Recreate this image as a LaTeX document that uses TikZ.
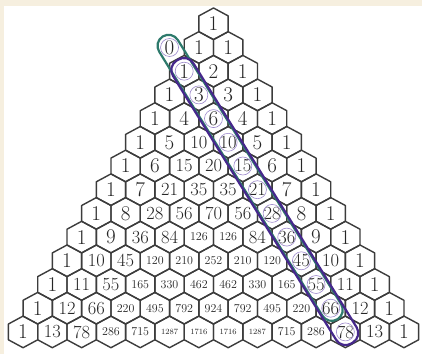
\documentclass[tikz,border=0pt]{standalone}
\usetikzlibrary{calc}
\definecolor{cream}{HTML}{F6EFDF}
\definecolor{hexline}{HTML}{3C3C3C}
\definecolor{numcol}{HTML}{262626}
\definecolor{tealc}{HTML}{2E7A6C}
\definecolor{purp}{HTML}{46288C}
\definecolor{lpurp}{HTML}{9C88CC}
\newcommand{\pnum}[1]{\ifnum#1<10 \fontsize{21}{21}\selectfont #1\else\ifnum#1<100 \fontsize{18.5}{18.5}\selectfont #1\else\ifnum#1<1000 \fontsize{12}{12}\selectfont #1\else\fontsize{8}{8}\selectfont #1\fi\fi\fi}
\begin{document}
\begin{tikzpicture}[x=1pt,y=1pt,
  numtext/.style={inner sep=0pt, text=numcol},
  hexedge/.style={draw=hexline, line width=1.4pt, line join=round},
  capsule/.style={rectangle, rounded corners=11pt, minimum height=22pt, line width=2.2pt, inner sep=0pt},
  ringmark/.style={draw=lpurp, line width=0.6pt}]
\fill[cream] (0,0) rectangle (422,354);
\fill[white] (4,0) rectangle (422,348);
\useasboundingbox (0,0) rectangle (422,354);
\foreach \n/\row in {0/{1},1/{1,1},2/{1,2,1},3/{1,3,3,1},4/{1,4,6,4,1},5/{1,5,10,10,5,1},
  6/{1,6,15,20,15,6,1},7/{1,7,21,35,35,21,7,1},8/{1,8,28,56,70,56,28,8,1},
  9/{1,9,36,84,126,126,84,36,9,1},10/{1,10,45,120,210,252,210,120,45,10,1},
  11/{1,11,55,165,330,462,462,330,165,55,11,1},
  12/{1,12,66,220,495,792,924,792,495,220,66,12,1},
  13/{1,13,78,286,715,1287,1716,1716,1287,715,286,78,13,1}} {
  \foreach \v [count=\k from 0] in \row {
    \node[numtext] (c\n-\k) at ({213.5+(\k-\n/2)*29.3},{330.2-23.7*\n}) {\pnum{\v}};
    \draw[hexedge] (c\n-\k.center) ++(0,15.8) -- ++(14.65,-7.9) -- ++(0,-15.8)
      -- ++(-14.65,-7.9) -- ++(-14.65,7.9) -- ++(0,15.8) -- cycle;
  }
}
\node[numtext] (z0) at ({213.5-1.5*29.3},{330.2-23.7}) {\pnum{0}};
% small rings on the diagonal
\foreach \a in {z0,c2-0,c3-1,c4-2,c5-3,c6-4,c7-5,c8-6,c9-7,c10-8,c11-9,c12-10,c13-11}
  \draw[ringmark] (\a) circle (9pt);
% highlight capsules
\path let \p1=($(c12-10)-(z0)$), \n1={atan2(\y1,\x1)}, \n2={veclen(\x1,\y1)+26} in
  ($(z0)!0.5!(c12-10)$) node[capsule, draw=tealc, minimum width=\n2, rotate=\n1] (tealcap) {};
\path let \p1=($(c13-11)-(c2-0)$), \n1={atan2(\y1,\x1)}, \n2={veclen(\x1,\y1)+26} in
  ($(c2-0)!0.5!(c13-11)$) node[capsule, draw=purp, minimum width=\n2, minimum height=24pt, rotate=\n1] (purpcap) {};
\end{tikzpicture}
\end{document}
